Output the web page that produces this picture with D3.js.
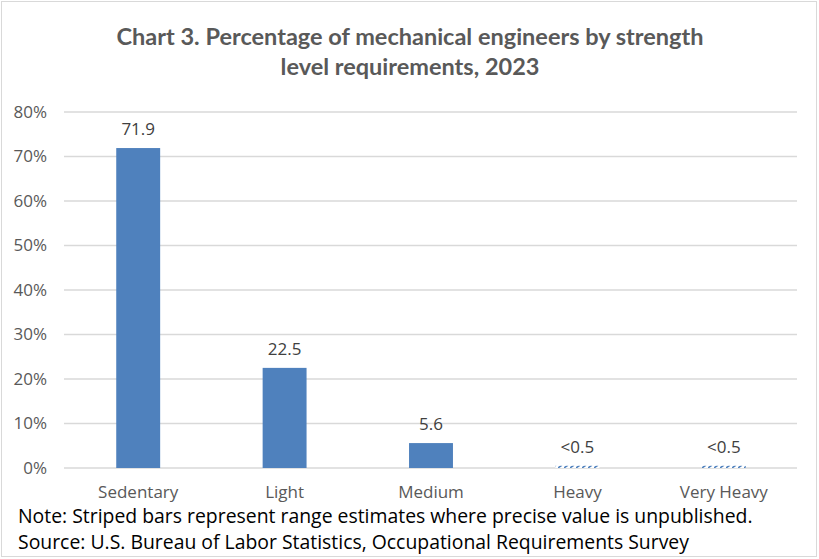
<!DOCTYPE html>
<html><head><meta charset="utf-8">
<script src="https://cdn.jsdelivr.net/npm/d3@7"></script>
<style>
body{margin:0;background:#fff;}
svg{display:block;}
</style></head>
<body><svg id="c" width="819" height="559"></svg>
<script>
const categories = ["Sedentary","Light","Medium","Heavy","Very Heavy"];
const values = [71.9, 22.5, 5.6, 0.5, 0.5];
const labels = ["71.9","22.5","5.6","<0.5","<0.5"];
const striped = [false,false,false,true,true];
const yTicks = [0,10,20,30,40,50,60,70,80];
const titleLines = ["Chart 3. Percentage of mechanical engineers by strength","level requirements, 2023"];
const notes = ["Note: Striped bars represent range estimates where precise value is unpublished.","Source: U.S. Bureau of Labor Statistics, Occupational Requirements Survey"];

const svg = d3.select("#c");
const font = "'Open Sans', sans-serif";
const tfont = "Lato, 'Open Sans', sans-serif";
svg.append("rect").attr("x",1.5).attr("y",1.5).attr("width",815).attr("height",555)
  .attr("fill","#fff").attr("stroke","#d9d9d9");

const defs = svg.append("defs");
const pat = defs.append("pattern").attr("id","stripe").attr("patternUnits","userSpaceOnUse")
  .attr("width",6).attr("height",3);
pat.append("rect").attr("width",6).attr("height",3).attr("fill","#fff");
pat.append("line").attr("x1",0).attr("y1",3).attr("x2",4).attr("y2",0)
  .attr("stroke","#4f81bd").attr("stroke-width",1.6);

const x = d3.scaleBand().domain(categories).range([65,797]).paddingInner(0.7).paddingOuter(0.35);
const y = d3.scaleLinear().domain([0,80]).range([468,112]);

// gridlines
svg.append("g").selectAll("line").data(yTicks).join("line")
  .attr("x1",64).attr("x2",797).attr("y1",d=>y(d)).attr("y2",d=>y(d))
  .attr("stroke","#d9d9d9").attr("stroke-width",1.3);

// y axis labels
const yAxis = d3.axisLeft(y).tickValues(yTicks).tickFormat(d=>d+"%").tickSize(0).tickPadding(0);
const ya = svg.append("g").attr("transform","translate(47,0)").call(yAxis);
ya.select(".domain").remove();
ya.selectAll("text").attr("font-family",font).attr("font-size",17).attr("fill","#595959");

// x axis labels
const xAxis = d3.axisBottom(x).tickSize(0).tickPadding(0);
const xa = svg.append("g").attr("transform","translate(0,486)").call(xAxis);
xa.select(".domain").remove();
xa.selectAll("text").attr("font-family",font).attr("font-size",17).attr("fill","#595959");

// bars
svg.append("g").selectAll("rect").data(categories).join("rect")
  .attr("x",d=>x(d)).attr("width",x.bandwidth())
  .attr("y",(d,i)=>y(values[i])).attr("height",(d,i)=>y(0)-y(values[i]))
  .attr("fill",(d,i)=>striped[i]?"url(#stripe)":"#4f81bd");

// value labels
svg.append("g").selectAll("text").data(categories).join("text")
  .attr("x",d=>x(d)+x.bandwidth()/2)
  .attr("y",(d,i)=>y(values[i])-13)
  .attr("text-anchor","middle").attr("font-family",font).attr("font-size",17).attr("fill","#404040")
  .text((d,i)=>labels[i]);

// title
svg.append("g").selectAll("text").data(titleLines).join("text")
  .attr("x",410).attr("y",(d,i)=>45+i*30).attr("text-anchor","middle")
  .attr("font-family",tfont).attr("font-weight","bold").attr("font-size",23.5).attr("fill","#595959")
  .text(d=>d);

// notes
svg.append("g").selectAll("text").data(notes).join("text")
  .attr("x",18).attr("y",(d,i)=>523+i*26)
  .attr("font-family",font).attr("font-size",19.4).attr("fill","#000")
  .text(d=>d);
</script></body></html>
